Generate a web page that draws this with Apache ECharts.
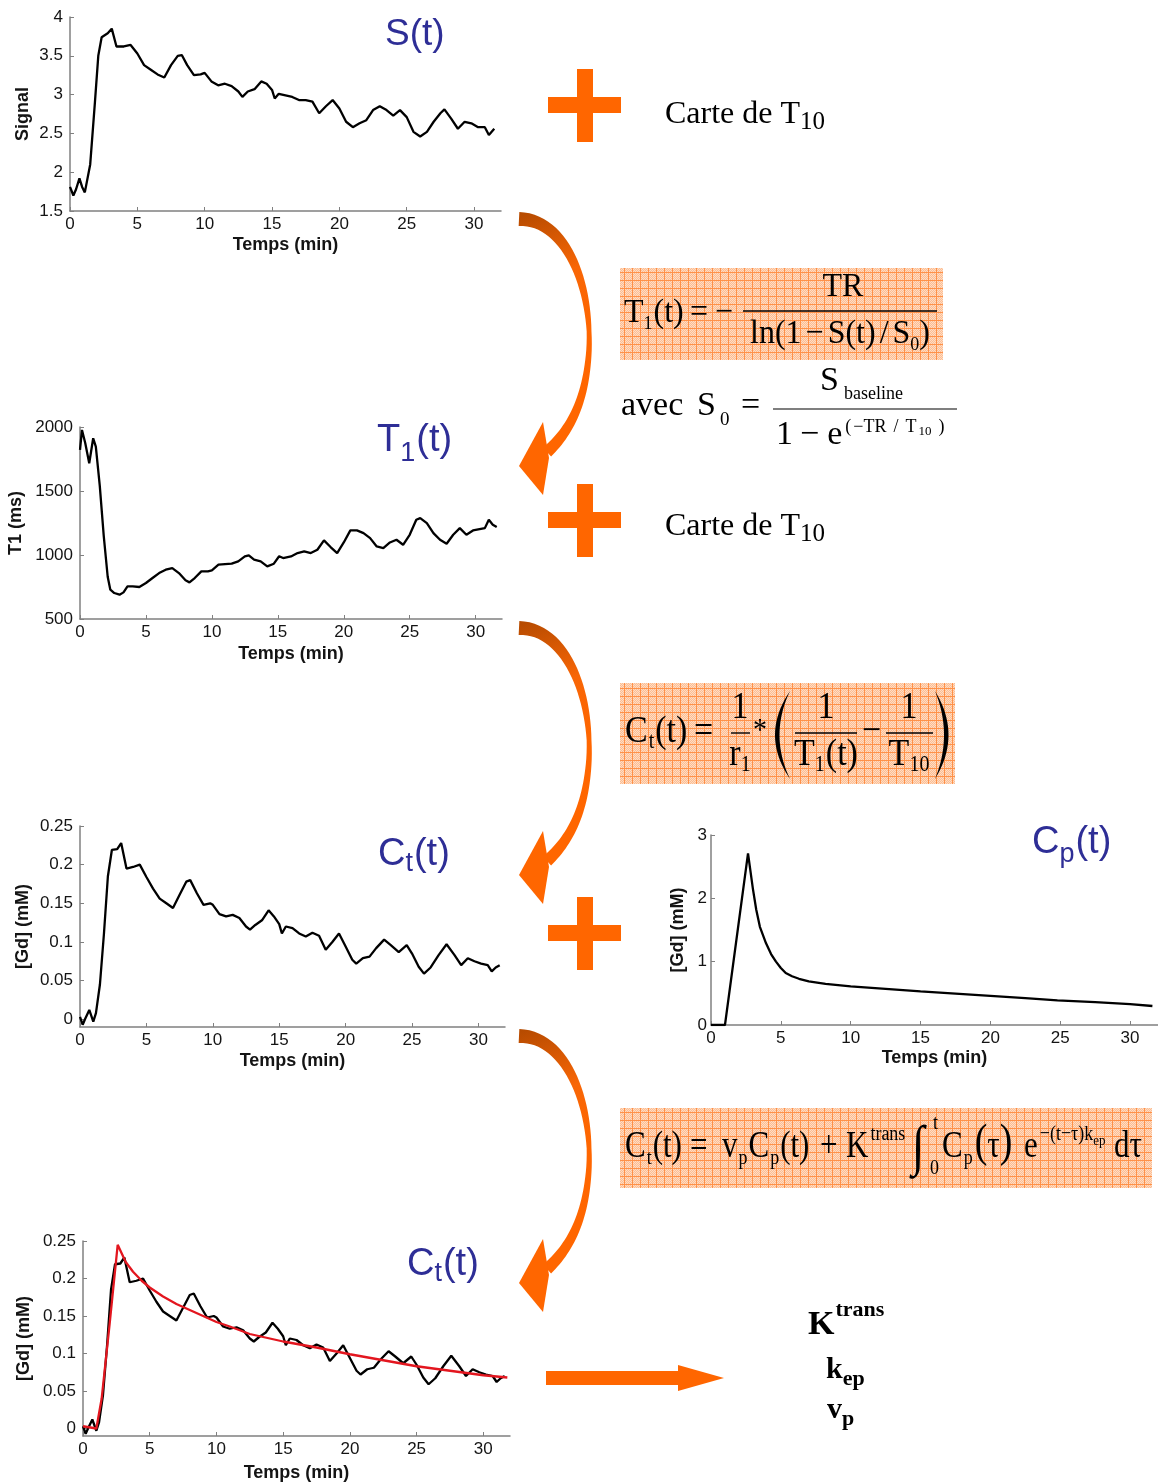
<!DOCTYPE html>
<html lang="fr">
<head>
<meta charset="utf-8">
<title>Chaîne de traitement DCE-MRI</title>
<script src="https://cdn.jsdelivr.net/npm/echarts@6/dist/echarts.min.js"></script>
<style>
html,body{margin:0;padding:0;background:#ffffff;}
#chart{width:1158px;height:1483px;}
</style>
</head>
<body>
<div id="chart"></div>
<script>
// ---- Courbes : [temps (min), valeur] ----
const signalCurve = [[0,1.81],[0.25,1.70],[0.45,1.78],[0.7,1.92],[0.9,1.81],[1.1,1.74],[1.5,2.1],[1.85,2.9],[2.1,3.5],[2.35,3.74],[2.8,3.79],[3.1,3.85],[3.45,3.62],[4.0,3.62],[4.5,3.64],[5.0,3.53],[5.5,3.38],[6.0,3.32],[6.5,3.26],[7.0,3.22],[7.5,3.38],[8.0,3.50],[8.3,3.51],[8.7,3.38],[9.2,3.25],[9.7,3.26],[10.0,3.28],[10.5,3.17],[11.0,3.12],[11.5,3.14],[12.0,3.11],[12.5,3.04],[12.8,2.97],[13.2,3.04],[13.7,3.07],[14.2,3.17],[14.6,3.14],[15.0,3.06],[15.2,2.95],[15.5,3.01],[16.0,2.99],[16.5,2.97],[17.0,2.93],[17.5,2.93],[18.0,2.91],[18.5,2.76],[19.0,2.85],[19.5,2.93],[20.0,2.82],[20.5,2.65],[21.0,2.58],[21.5,2.63],[22.0,2.67],[22.5,2.80],[23.0,2.85],[23.5,2.80],[24.0,2.73],[24.5,2.80],[25.0,2.71],[25.5,2.52],[26.0,2.46],[26.5,2.52],[27.0,2.65],[27.5,2.76],[27.8,2.81],[28.3,2.69],[28.8,2.56],[29.3,2.65],[29.8,2.63],[30.3,2.58],[30.8,2.58],[31.1,2.48],[31.5,2.56]];

const t1Curve = [[0,1821],[0.15,1977],[0.4,1873],[0.7,1717],[1.0,1912],[1.2,1847],[1.5,1540],[1.8,1150],[2.1,830],[2.3,729],[2.6,703],[3.0,690],[3.3,708],[3.6,755],[4.0,755],[4.5,750],[5.0,781],[5.5,820],[6.0,859],[6.5,885],[7.0,898],[7.5,859],[8.0,802],[8.3,786],[8.7,820],[9.2,872],[9.7,872],[10.0,880],[10.5,924],[11.0,929],[11.5,932],[12.0,950],[12.5,989],[12.8,997],[13.2,963],[13.7,950],[14.2,911],[14.7,932],[15.1,990],[15.4,976],[16.0,989],[16.5,1015],[17.0,1028],[17.5,1015],[18.0,1041],[18.5,1114],[19.0,1062],[19.5,1015],[20.0,1098],[20.5,1192],[21.0,1192],[21.5,1171],[22.0,1132],[22.5,1067],[23.0,1054],[23.5,1098],[24.0,1119],[24.5,1080],[25.0,1158],[25.5,1275],[25.8,1288],[26.3,1249],[26.8,1171],[27.3,1119],[27.8,1088],[28.3,1158],[28.8,1210],[29.3,1158],[29.8,1192],[30.3,1202],[30.7,1210],[31.0,1275],[31.3,1236],[31.6,1218]];

const tissueCurve = [[0,0.003],[0.2,-0.007],[0.4,0.001],[0.7,0.012],[1.0,-0.003],[1.2,0.008],[1.5,0.045],[1.8,0.11],[2.1,0.185],[2.4,0.219],[2.8,0.220],[3.1,0.228],[3.5,0.195],[4.0,0.197],[4.5,0.200],[5.0,0.184],[5.5,0.169],[6.0,0.156],[6.5,0.150],[7.0,0.144],[7.5,0.161],[8.0,0.178],[8.3,0.180],[8.8,0.163],[9.3,0.148],[9.8,0.150],[10.0,0.148],[10.5,0.136],[11.0,0.133],[11.5,0.135],[12.0,0.131],[12.5,0.120],[12.8,0.116],[13.2,0.122],[13.7,0.128],[14.2,0.141],[14.6,0.133],[15.0,0.123],[15.2,0.111],[15.5,0.120],[16.0,0.118],[16.5,0.111],[17.0,0.107],[17.5,0.112],[18.0,0.108],[18.5,0.090],[19.0,0.100],[19.5,0.111],[20.0,0.094],[20.5,0.077],[20.8,0.072],[21.3,0.079],[21.8,0.081],[22.3,0.092],[22.9,0.103],[23.4,0.096],[24.0,0.087],[24.6,0.096],[25.0,0.085],[25.5,0.068],[25.9,0.059],[26.4,0.067],[27.0,0.083],[27.6,0.097],[28.2,0.083],[28.7,0.070],[29.2,0.079],[29.7,0.075],[30.2,0.072],[30.7,0.070],[31.0,0.062],[31.3,0.067],[31.6,0.070]];

const aifCurve = [[0,0],[1.0,0],[2.65,2.71],[3.0,2.15],[3.24,1.82],[3.5,1.55],[3.94,1.29],[4.3,1.12],[4.65,1.0],[5.0,0.9],[5.35,0.82],[5.8,0.77],[6.3,0.73],[7.0,0.69],[8.2,0.65],[10,0.61],[12.5,0.57],[15,0.53],[17.5,0.495],[20,0.46],[22.5,0.425],[24.8,0.39],[27.5,0.36],[30,0.33],[31.6,0.30]];

const fitCurve = [[0,0.003],[1.0,0.0],[1.4,0.04],[2.0,0.14],[2.6,0.245],[3.2,0.222],[3.75,0.209],[4.4,0.197],[5,0.188],[6,0.176],[7,0.166],[8,0.158],[9,0.150],[10,0.142],[11,0.136],[12.5,0.126],[14,0.120],[15,0.116],[17.5,0.108],[20,0.099],[22.5,0.091],[25,0.083],[27.5,0.077],[30,0.071],[31.8,0.068]];

// ---- Graduations ----
const timeTicks = [0, 5, 10, 15, 20, 25, 30];
const signalTicks = [1.5, 2, 2.5, 3, 3.5, 4];
const t1Ticks = [500, 1000, 1500, 2000];
const gdTicks = [0, 0.05, 0.1, 0.15, 0.2, 0.25];
const aifTicks = [0, 1, 2, 3];

const SANS = "'Liberation Sans', Arial, Helvetica, sans-serif";
const SERIF = "'Liberation Serif', 'Times New Roman', Times, serif";
const ORANGE = '#ff6600';
const TITLE_BLUE = '#2e2e96';
const AXIS_GREY = '#808080';
const INK = '#141414';
const MID = 0.34; // distance from alphabetic baseline to the middle line, in em

// one entry per plot: grid box, y range, axis names
const panels = [
  { grid: { left: 70,  top: 17,   width: 431, height: 194 }, yMin: 1.5,   yMax: 4,    yTicks: signalTicks, yName: 'Signal',    yGap: 38, xGap: 25, data: [signalCurve] },
  { grid: { left: 80,  top: 427,  width: 422, height: 192 }, yMin: 500,   yMax: 2000, yTicks: t1Ticks,     yName: 'T1 (ms)',   yGap: 55, xGap: 26, data: [t1Curve] },
  { grid: { left: 80,  top: 826,  width: 425, height: 201 }, yMin: -0.01, yMax: 0.25, yTicks: gdTicks,     yName: '[Gd] (mM)', yGap: 48, xGap: 25, data: [tissueCurve] },
  { grid: { left: 711, top: 835,  width: 454, height: 190 }, yMin: 0,     yMax: 3,    yTicks: aifTicks,    yName: '[Gd] (mM)', yGap: 24, xGap: 24, data: [aifCurve] },
  { grid: { left: 83,  top: 1241, width: 427, height: 195 }, yMin: -0.01, yMax: 0.25, yTicks: gdTicks,     yName: '[Gd] (mM)', yGap: 50, xGap: 28, data: [tissueCurve, fitCurve] }
];

const labelText = { fontFamily: SANS, fontSize: 17, color: INK };
const nameText = { fontFamily: SANS, fontSize: 18, fontWeight: 'bold', color: INK };
const plainNumber = v => String(v);

const grids = [], xAxes = [], yAxes = [], series = [];
panels.forEach((p, i) => {
  grids.push(Object.assign({ containLabel: false }, p.grid));
  xAxes.push({
    type: 'value', gridIndex: i, min: 0, max: 32,
    name: 'Temps (min)', nameLocation: 'middle', nameGap: p.xGap, nameTextStyle: nameText,
    axisLine: { show: true, onZero: false, lineStyle: { color: AXIS_GREY, width: 1.5 } },
    axisTick: { show: true, inside: true, length: 4, customValues: timeTicks, lineStyle: { color: AXIS_GREY } },
    axisLabel: Object.assign({ customValues: timeTicks, margin: 5, formatter: plainNumber }, labelText),
    splitLine: { show: false }
  });
  yAxes.push({
    type: 'value', gridIndex: i, min: p.yMin, max: p.yMax,
    name: p.yName, nameLocation: 'middle', nameGap: p.yGap, nameTextStyle: nameText,
    axisLine: { show: true, onZero: false, lineStyle: { color: AXIS_GREY, width: 1.5 } },
    axisTick: { show: true, inside: true, length: 4, customValues: p.yTicks, lineStyle: { color: AXIS_GREY } },
    axisLabel: Object.assign({ customValues: p.yTicks, margin: i === 3 ? 4 : 7, formatter: plainNumber }, labelText),
    splitLine: { show: false }
  });
  p.data.forEach((curve, k) => {
    series.push({
      type: 'line', xAxisIndex: i, yAxisIndex: i, data: curve,
      showSymbol: false, symbol: 'none', z: k === 1 ? 4 : 3,
      lineStyle: { color: k === 1 ? '#e3161f' : '#000000', width: 2.3 }
    });
  });
});

// ---- text layout helpers (pieces laid out left to right on a baseline) ----
const measure = document.createElement('canvas').getContext('2d');
function fontOf(p, base) {
  const s = p.s || base.s;
  return (p.it ? 'italic ' : '') + ((p.b || base.b) ? 'bold ' : '') + s + 'px ' + (p.f || base.f);
}
function widthOf(str, font) { measure.font = font; return measure.measureText(str).width; }
function runWidth(pieces, base) {
  return pieces.reduce((w, p) => w + (p.dx || 0) + widthOf(p.t, fontOf(p, base)), 0);
}
function place(out, x, yb, pieces, base) {
  let cx = x;
  const sy = base.sy || 1;
  const col = base.c || INK;
  pieces.forEach(p => {
    cx += p.dx || 0;
    const s = p.s || base.s;
    const font = fontOf(p, base);
    out.push({
      type: 'text', silent: true, x: cx, y: yb + (p.dy || 0) - MID * s * sy, scaleY: sy,
      style: { text: p.t, font: font, fill: col, textFill: col, align: 'left', verticalAlign: 'middle', textAlign: 'left', textVerticalAlign: 'middle' }
    });
    cx += widthOf(p.t, font);
  });
  return cx;
}
function centre(out, xc, yb, pieces, base) { return place(out, xc - runWidth(pieces, base) / 2, yb, pieces, base); }
function rule(out, x1, x2, y, w) {
  out.push({ type: 'line', silent: true, shape: { x1: x1, y1: y, x2: x2, y2: y }, style: { stroke: '#000', lineWidth: w || 1.4 } });
}
function cubicAt(a, b, c, d, t) {
  const u = 1 - t;
  return [u*u*u*a[0] + 3*u*u*t*b[0] + 3*u*t*t*c[0] + t*t*t*d[0],
          u*u*u*a[1] + 3*u*u*t*b[1] + 3*u*t*t*c[1] + t*t*t*d[1]];
}
function quad(a, c, b, n) {
  const pts = [];
  for (let i = 0; i <= n; i++) {
    const t = i / n, u = 1 - t;
    pts.push([u*u*a[0] + 2*u*t*c[0] + t*t*b[0], u*u*a[1] + 2*u*t*c[1] + t*t*b[1]]);
  }
  return pts;
}

// hatched orange fill of the equation boxes
function boxPattern() {
  const c = document.createElement('canvas');
  c.width = 8; c.height = 8;
  const g = c.getContext('2d');
  g.fillStyle = '#fcbd92'; g.fillRect(0, 0, 8, 8);
  g.fillStyle = '#ffdcc3';
  for (let i = 0; i < 8; i++) for (let j = 0; j < 8; j++) if ((i + j) % 2 === 0) g.fillRect(i, j, 1, 1);
  g.fillStyle = '#ff9148'; g.fillRect(0, 0, 8, 1); g.fillRect(0, 0, 1, 8);
  return c;
}
const hatch = { image: boxPattern(), repeat: 'repeat' };

const gfx = [];

// curved arrows between stages: a tapered band along a centre line, plus a head
function curvedArrow(dy) {
  const segs = [
    [[519, 219], [567, 219], [592, 288], [589, 350]],
    [[589, 350], [586, 402], [569, 432], [547, 452]]
  ];
  const n = 30, centre = [];
  segs.forEach((s, k) => {
    for (let i = (k ? 1 : 0); i <= n; i++) centre.push(cubicAt(s[0], s[1], s[2], s[3], i / n));
  });
  const left = [], right = [];
  centre.forEach((p, i) => {
    const a = centre[Math.max(0, i - 1)], b = centre[Math.min(centre.length - 1, i + 1)];
    let tx = b[0] - a[0], ty = b[1] - a[1];
    const len = Math.hypot(tx, ty) || 1; tx /= len; ty /= len;
    const s = i / (centre.length - 1);
    const w = s < 0.45 ? 7 - 4.6 * (s / 0.45) : 2.4 + 3.6 * ((s - 0.45) / 0.55);
    left.push([p[0] - ty * w, p[1] + tx * w + dy]);
    right.push([p[0] + ty * w, p[1] - tx * w + dy]);
  });
  gfx.push({
    type: 'polygon', silent: true, shape: { points: left.concat(right.reverse()) },
    style: { fill: { type: 'linear', x: 0, y: 0, x2: 0.6, y2: 0.55,
      colorStops: [{ offset: 0, color: '#b44a00' }, { offset: 0.5, color: '#f86606' }, { offset: 1, color: ORANGE }] } }
  });
  gfx.push({
    type: 'polygon', silent: true,
    shape: { points: [[543, 422 + dy], [519, 466 + dy], [543, 495 + dy], [549, 458 + dy]] },
    style: { fill: ORANGE }
  });
}
[0, 409, 817].forEach(curvedArrow);

// plus signs
function plus(cy) {
  gfx.push({ type: 'rect', silent: true, shape: { x: 548, y: cy - 8, width: 73, height: 16 }, style: { fill: ORANGE } });
  gfx.push({ type: 'rect', silent: true, shape: { x: 577, y: cy - 36, width: 16, height: 73 }, style: { fill: ORANGE } });
}
[105, 520, 933].forEach(plus);

// output arrow
gfx.push({ type: 'polygon', silent: true,
  shape: { points: [[546, 1371], [678, 1371], [678, 1365], [724, 1378], [678, 1391], [678, 1385], [546, 1385]] },
  style: { fill: ORANGE } });

// equation boxes
[[620, 268, 323, 92], [620, 683, 335, 101], [620, 1108, 532, 80]].forEach(b => {
  gfx.push({ type: 'rect', silent: true, shape: { x: b[0], y: b[1], width: b[2], height: b[3] }, style: { fill: hatch } });
});

// plot titles
const blue = { s: 38, f: SANS, c: TITLE_BLUE };
place(gfx, 385, 47, [{ t: 'S(t)', s: 37 }], blue);
place(gfx, 377, 453, [{ t: 'T' }, { t: '1', s: 27, dy: 10 }, { t: '(t)', dx: 1 }], blue);
place(gfx, 378, 867, [{ t: 'C' }, { t: 't', s: 27, dy: 6 }, { t: '(t)', dx: 1 }], blue);
place(gfx, 1032, 855, [{ t: 'C' }, { t: 'p', s: 27, dy: 9 }, { t: '(t)', dx: 1 }], blue);
place(gfx, 407, 1277, [{ t: 'C' }, { t: 't', s: 27, dy: 6 }, { t: '(t)', dx: 1 }], blue);

// "Carte de T10"
const carte = { s: 32, f: SERIF, c: '#000' };
place(gfx, 665, 125, [{ t: 'Carte de T' }, { t: '10', s: 25, dy: 6 }], carte);
place(gfx, 665, 537, [{ t: 'Carte de T' }, { t: '10', s: 25, dy: 6 }], carte);

// T1(t) = -TR / ln(1 - S(t)/S0)
const eq1 = { s: 32, f: SERIF, c: '#000', sy: 1.08 };
place(gfx, 624, 325, [{ t: 'T' }, { t: '1', s: 18, dy: 5 }, { t: '(t)', dx: 1 }], eq1);
place(gfx, 690, 325, [{ t: '=' }], eq1);
place(gfx, 715, 325, [{ t: '−' }], eq1);
rule(gfx, 743, 937, 311, 1.5);
centre(gfx, 843, 299, [{ t: 'TR' }], eq1);
centre(gfx, 840, 346, [{ t: 'ln(1' }, { t: '−', dx: 4 }, { t: 'S(t)', dx: 4 }, { t: '/', dx: 4 }, { t: 'S', dx: 4 }, { t: '0', s: 18, dy: 5 }, { t: ')' }], eq1);

// avec S0 = S_baseline / (1 - e^(-TR/T10))
const eqA = { s: 34, f: SERIF, c: '#000' };
place(gfx, 621, 418, [{ t: 'avec' }], eqA);
place(gfx, 697, 418, [{ t: 'S' }, { t: '0', s: 19, dy: 8, dx: 4 }], eqA);
place(gfx, 741, 418, [{ t: '=' }], eqA);
rule(gfx, 773, 957, 409, 1.2);
place(gfx, 820, 393, [{ t: 'S' }, { t: 'baseline', s: 18, dy: 7, dx: 5 }], eqA);
place(gfx, 776, 447, [{ t: '1' }, { t: '−', dx: 7 }, { t: 'e', dx: 8 },
  { t: '(', s: 18, dy: -14, dx: 3 }, { t: '−TR', s: 18, dy: -14, dx: 2 }, { t: '/', s: 18, dy: -14, dx: 7 },
  { t: 'T', s: 18, dy: -14, dx: 7 }, { t: '10', s: 13, dy: -11, dx: 2 }, { t: ')', s: 18, dy: -14, dx: 7 }], eqA);

// Ct(t) = 1/r1 * (1/T1(t) - 1/T10)
const eq2 = { s: 34, f: SERIF, c: '#000', sy: 1.12 };
place(gfx, 625, 745, [{ t: 'C' }, { t: 't', s: 20, dy: 5, dx: 1 }, { t: '(t)', dx: 1 }], eq2);
place(gfx, 694, 745, [{ t: '=' }], eq2);
rule(gfx, 731, 750, 733, 1.4);
centre(gfx, 740, 721, [{ t: '1' }], eq2);
centre(gfx, 740, 768, [{ t: 'r' }, { t: '1', s: 20, dy: 5 }], eq2);
place(gfx, 753, 742, [{ t: '*', s: 28 }], eq2);
gfx.push({ type: 'polygon', silent: true, shape: { points: [].concat(quad([790, 691], [760, 735], [790, 779], 20), quad([790, 779], [769, 735], [790, 691], 20)) }, style: { fill: '#000' } });
gfx.push({ type: 'polygon', silent: true, shape: { points: [].concat(quad([935, 691], [962, 735], [935, 779], 20), quad([935, 779], [953, 735], [935, 691], 20)) }, style: { fill: '#000' } });
rule(gfx, 795, 857, 733, 1.4);
centre(gfx, 826, 721, [{ t: '1' }], eq2);
centre(gfx, 826, 768, [{ t: 'T' }, { t: '1', s: 20, dy: 5 }, { t: '(t)', dx: 1 }], eq2);
place(gfx, 862, 745, [{ t: '−' }], eq2);
rule(gfx, 886, 933, 733, 1.4);
centre(gfx, 909, 721, [{ t: '1' }], eq2);
centre(gfx, 909, 768, [{ t: 'T' }, { t: '10', s: 20, dy: 5 }], eq2);

// Ct(t) = vp Cp(t) + Ktrans ∫ Cp(τ) e^{-(t-τ)kep} dτ
const eq3 = { s: 31, f: SERIF, c: '#000', sy: 1.2 };
place(gfx, 625, 1160, [{ t: 'C' }, { t: 't', s: 18, dy: 6, dx: 1 }, { t: '(t)', dx: 1 }], eq3);
place(gfx, 690, 1160, [{ t: '=' }], eq3);
place(gfx, 722, 1160, [{ t: 'v' }, { t: 'p', s: 18, dy: 6, dx: 1 }, { t: 'C', dx: 1 }, { t: 'p', s: 18, dy: 6, dx: 1 }, { t: '(t)', dx: 1 }], eq3);
place(gfx, 820, 1160, [{ t: '+' }], eq3);
place(gfx, 846, 1160, [{ t: 'K' }, { t: 'trans', s: 18, dy: -18, dx: 2 }], eq3);
place(gfx, 912, 1168, [{ t: '∫', s: 46 }], eq3);
place(gfx, 933, 1131, [{ t: 't', s: 18 }], eq3);
place(gfx, 930, 1176, [{ t: '0', s: 18 }], eq3);
place(gfx, 942, 1160, [{ t: 'C' }, { t: 'p', s: 18, dy: 6, dx: 1 }, { t: '(', s: 38, dx: 2 }, { t: 'τ' }, { t: ')', s: 38 }], eq3);
place(gfx, 1024, 1160, [{ t: 'e' }, { t: '−(t−τ)k', s: 18, dy: -18, dx: 2 }, { t: 'ep', s: 13, dy: -14 }], eq3);
place(gfx, 1114, 1160, [{ t: 'dτ' }], eq3);

// fitted parameters
const outp = { s: 30, f: SERIF, c: '#000', b: true };
place(gfx, 808, 1337, [{ t: 'K', s: 34 }, { t: 'trans', s: 22, dy: -19, dx: 1 }], outp);
place(gfx, 826, 1380, [{ t: 'k' }, { t: 'ep', s: 22, dy: 7 }], outp);
place(gfx, 827, 1420, [{ t: 'v' }, { t: 'p', s: 22, dy: 7 }], outp);

const chart = echarts.init(document.getElementById('chart'), null, { renderer: 'canvas', width: 1158, height: 1483 });
chart.setOption({
  backgroundColor: '#ffffff',
  animation: false,
  grid: grids,
  xAxis: xAxes,
  yAxis: yAxes,
  series: series,
  graphic: { elements: gfx }
});
</script>
</body>
</html>
